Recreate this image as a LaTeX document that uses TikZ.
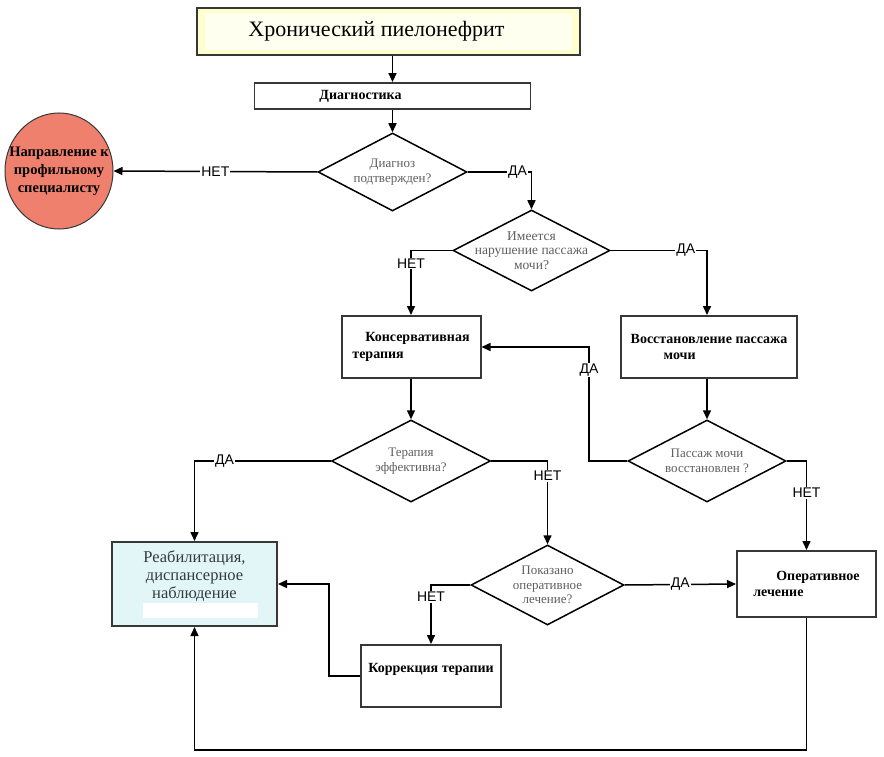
\documentclass[tikz,border=0pt]{standalone}
\usepackage{fontspec}
\setmainfont{Liberation Serif}
\newfontfamily\labelfont{Liberation Sans}
\usetikzlibrary{shapes.geometric,arrows.meta}
\definecolor{titlefill}{RGB}{255,255,205}
\definecolor{titleinner}{RGB}{255,255,240}
\definecolor{redfill}{RGB}{240,128,110}
\definecolor{cyanfill}{RGB}{226,246,248}
\definecolor{boxline}{RGB}{55,55,55}
\definecolor{qgray}{RGB}{95,95,95}
\definecolor{reabtext}{RGB}{50,60,60}

\begin{document}
\begin{tikzpicture}[x=1pt, y=-1pt,
    box/.style={draw=boxline, line width=2pt, fill=white, inner sep=2pt,
        font=\bfseries\fontsize{14}{16.5}\selectfont},
    decision/.style={diamond, draw=black, line width=1.5pt, fill=white, inner sep=0pt},
    qtext/.style={text=qgray, align=center, font=\fontsize{13}{14.5}\selectfont},
    answer/.style={fill=white, inner sep=1pt, font=\labelfont\fontsize{14}{15}\selectfont},
    flow/.style={line width=1.5pt, -{Triangle[length=9pt,width=8pt]}}]
        \useasboundingbox (0,0) rectangle (884,757);
        % start and diagnosis
        \node[box, fill=titlefill, minimum width=383pt, minimum height=47pt,
            font=\fontsize{22}{24}\selectfont,
            path picture={\fill[titleinner] ([shift={(8pt,-5pt)}]path picture bounding box.north west)
                rectangle ([shift={(-8pt,5pt)}]path picture bounding box.south east);}]
            (title) at (388.5,31.5) {Хронический пиелонефрит\hspace*{24pt}};
        \node[box, line width=1.8pt, minimum width=276pt, minimum height=26pt] (diag) at (392.5,96)
            {Диагностика\hspace*{64pt}};
        \node[decision, minimum width=149pt, minimum height=78pt,
            label={[qtext]center:Диагноз\\подтвержден?}] (d1) at (392.5,172) {};
        \node[ellipse, draw=boxline, line width=1pt, fill=redfill, minimum width=108pt, minimum height=116pt,
            label={[align=center, font=\bfseries\fontsize{14.5}{18}\selectfont]center:Направление к\\профильному\\специалисту}]
            (spec) at (59,171) {};
        % passage of urine
        \node[decision, minimum width=157pt, minimum height=81pt,
            label={[qtext, font=\fontsize{13.5}{14.5}\selectfont]center:Имеется\\нарушение пассажа\\мочи?}]
            (d2) at (531.5,250.5) {};
        \node[box, minimum width=139pt, minimum height=62pt, align=left] (kons) at (411,347)
            {\hspace{13pt}Консервативная\\терапия};
        \node[box, minimum width=176pt, minimum height=62pt, align=left] (voss) at (709,347)
            {Восстановление пассажа\\\hspace{33pt}мочи};
        \node[decision, minimum width=159pt, minimum height=82pt,
            label={[qtext]center:Терапия\\эффективна?}] (d3) at (411,461) {};
        \node[decision, minimum width=158pt, minimum height=82pt,
            label={[qtext]center:Пассаж мочи\\восстановлен ?}] (d4) at (707,461) {};
        % treatment
        \node[decision, minimum width=153pt, minimum height=80pt,
            label={[qtext]center:Показано\\оперативное\\лечение?}] (d5) at (547.5,585) {};
        \node[box, minimum width=139pt, minimum height=66pt, align=left] (oper) at (806.5,584)
            {\hspace{23pt}Оперативное\\лечение};
        \node[box, fill=cyanfill, minimum width=165pt, minimum height=84pt, align=center,
            text=reabtext, font=\fontsize{16.5}{18}\selectfont,
            path picture={\fill[white] ([shift={(31pt,8pt)}]path picture bounding box.south west)
                rectangle ([shift={(146pt,23pt)}]path picture bounding box.south west);}]
            (reab) at (194.5,584) {Реабилитация,\\диспансерное\\наблюдение\\\mbox{}};
        \node[box, minimum width=140pt, minimum height=62pt, text height=10pt, text depth=17pt]
            (korr) at (431,676) {Коррекция терапии};
        % connectors
        \draw[flow] (diag.north |- title.south) -- (diag.north);
        \draw[flow] (diag) -- (d1);
        \draw[flow] (d1.west) -- node[answer] {НЕТ} (spec.east);
        \draw[flow] (d1.east) -| node[answer, pos=0.39] {ДА} (d2.north);
        \draw[flow] (d2.west) -| node[answer, pos=0.6] {НЕТ} (kons.north);
        \draw[flow] (d2.east) -| node[answer, pos=0.39] {ДА} (d4.north |- voss.north);
        \draw[flow] (kons) -- (d3);
        \draw[flow] (d4.north |- voss.south) -- (d4.north);
        \coordinate (back) at (589,461);
        \draw[flow] (d4.west) -- (back) |- node[answer, pos=0.4] {ДА} (kons.east);
        \draw[flow] (d4.east) -| node[answer, pos=0.68] {НЕТ} (oper.north);
        \draw[flow] (d3.west) -| node[answer, pos=0.39] {ДА} (reab.north);
        \draw[flow] (d3.east) -| node[answer, pos=0.59] {НЕТ} (d5.north);
        \draw[flow] (d5.east) -- node[answer] {ДА} (oper.west);
        \draw[flow] (d5.west) -| node[answer, pos=0.6] {НЕТ} (korr.north);
        \draw[flow] (korr.west) -- ++(-31,0) |- (reab.east);
        \draw[flow] (oper.south) -- ++(0,132) -| (reab.south);
    \end{tikzpicture}
\end{document}
